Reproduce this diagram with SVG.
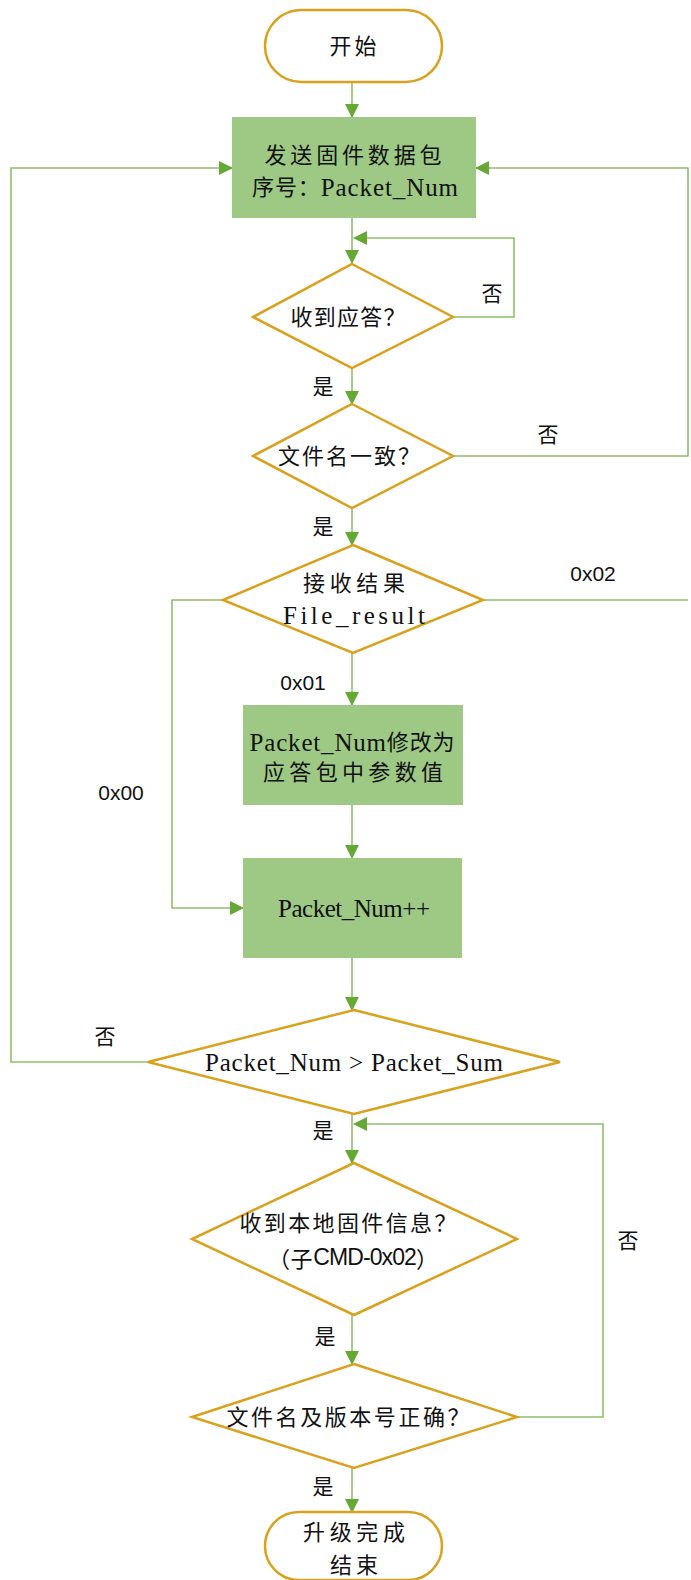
<svg xmlns="http://www.w3.org/2000/svg" width="691" height="1580" viewBox="0 0 691 1580">
<defs>
<marker id="ah" markerUnits="userSpaceOnUse" markerWidth="14" markerHeight="14" viewBox="0 0 14 14" refX="13" refY="7" orient="auto">
<path d="M0,0 L14,7 L0,14 Z" fill="#63A933"/>
</marker>
</defs>
<style>
.term{fill:#fff;stroke:#D9A11D;stroke-width:2.5}
.dec{fill:#fff;stroke:#D9A11D;stroke-width:2.5}
.proc{fill:#9DC985;stroke:none}
.c{fill:none;stroke:#8DC06A;stroke-width:1.6}
.a{marker-end:url(#ah)}
text{font-family:"Liberation Serif","Noto Sans CJK SC",serif;font-size:22px;fill:#111;text-anchor:middle;dominant-baseline:central}
.lat{font-size:25px}
.lbl{font-family:"Noto Sans CJK SC",sans-serif;font-size:21px}
.hex{font-family:"Liberation Sans",Arial,sans-serif;font-size:21px}
</style>
<rect width="691" height="1580" fill="#fff"/>
<g id="connectors">
<path class="c a" d="M352,82 V117"/>
<path class="c a" d="M352,218 V263"/>
<path class="c a" d="M453,317 H514 V238 H354"/>
<path class="c a" d="M352,368 V404"/>
<path class="c a" d="M453,456 H688 V168 H476"/>
<path class="c a" d="M352,508 V545"/>
<path class="c" d="M483,600 H688"/>
<path class="c a" d="M223,600 H172 V908 H243"/>
<path class="c a" d="M352,653 V705"/>
<path class="c a" d="M352,805 V858"/>
<path class="c a" d="M352,958 V1010"/>
<path class="c a" d="M148,1062 H11 V168 H232"/>
<path class="c a" d="M352,1114 V1163"/>
<path class="c a" d="M352,1315 V1364"/>
<path class="c a" d="M517,1417 H603 V1124 H354"/>
<path class="c a" d="M352,1468 V1512"/>
<text class="lbl" x="492" y="292">否</text>
<text class="lbl" x="323" y="385">是</text>
<text class="lbl" x="548" y="433">否</text>
<text class="lbl" x="323" y="525">是</text>
<text class="hex" x="593" y="573">0x02</text>
<text class="hex" x="303" y="682">0x01</text>
<text class="hex" x="121" y="792">0x00</text>
<text class="lbl" x="105" y="1035">否</text>
<text class="lbl" x="323" y="1129">是</text>
<text class="lbl" x="628" y="1239">否</text>
<text class="lbl" x="325" y="1335">是</text>
<text class="lbl" x="323" y="1485">是</text>
</g>
<g id="start">
<rect class="term" x="265" y="10" width="177" height="72" rx="36"/>
<text x="353" y="46" textLength="47" lengthAdjust="spacing">开始</text>
</g>
<g id="send">
<rect class="proc" x="232" y="117" width="244" height="101"/>
<text x="353" y="155" textLength="177" lengthAdjust="spacing">发送固件数据包</text>
<text x="355" y="187" textLength="206" lengthAdjust="spacing">序号：<tspan class="lat">Packet_Num</tspan></text>
</g>
<g id="ack">
<polygon class="dec" points="352,264 453,317 352,368 253,317"/>
<text x="348" y="317" textLength="115" lengthAdjust="spacing">收到应答？</text>
</g>
<g id="fname">
<polygon class="dec" points="352,404 453,456 352,508 253,456"/>
<text x="349" y="456" textLength="142" lengthAdjust="spacing">文件名一致？</text>
</g>
<g id="result">
<polygon class="dec" points="353,545 483,600 353,653 223,600"/>
<text x="354" y="583" textLength="102" lengthAdjust="spacing">接收结果</text>
<text class="lat" x="354" y="615" textLength="142" lengthAdjust="spacing">File_result</text>
</g>
<g id="modify">
<rect class="proc" x="243" y="705" width="220" height="100"/>
<text x="352" y="742" textLength="205" lengthAdjust="spacing"><tspan class="lat">Packet_Num</tspan>修改为</text>
<text x="353" y="772" textLength="180" lengthAdjust="spacing">应答包中参数值</text>
</g>
<g id="inc">
<rect class="proc" x="243" y="858" width="219" height="100"/>
<text class="lat" x="354" y="908" textLength="152" lengthAdjust="spacing">Packet_Num++</text>
</g>
<g id="cmp">
<polygon class="dec" points="354,1010 560,1062 354,1114 148,1062"/>
<text class="lat" x="354" y="1062" textLength="298" lengthAdjust="spacing">Packet_Num &gt; Packet_Sum</text>
</g>
<g id="local">
<polygon class="dec" points="354,1163 517,1239 354,1315 192,1239"/>
<text x="348" y="1223" textLength="217" lengthAdjust="spacing">收到本地固件信息？</text>
<text x="353" y="1257" textLength="170" lengthAdjust="spacing"><tspan font-family="Noto Sans CJK SC, sans-serif" font-size="22">（子</tspan><tspan font-family="Liberation Sans, Arial, sans-serif" font-size="23" letter-spacing="-1.5">CMD-0x02</tspan><tspan font-family="Noto Sans CJK SC, sans-serif" font-size="22">）</tspan></text>
</g>
<g id="ver">
<polygon class="dec" points="354,1364 517,1417 354,1468 192,1417"/>
<text x="348" y="1417" textLength="243" lengthAdjust="spacing">文件名及版本号正确？</text>
</g>
<g id="end">
<rect class="term" x="265" y="1512" width="177" height="68" rx="34"/>
<text x="354" y="1532" textLength="102" lengthAdjust="spacing">升级完成</text>
<text x="354" y="1565" textLength="48" lengthAdjust="spacing">结束</text>
</g>
</svg>
